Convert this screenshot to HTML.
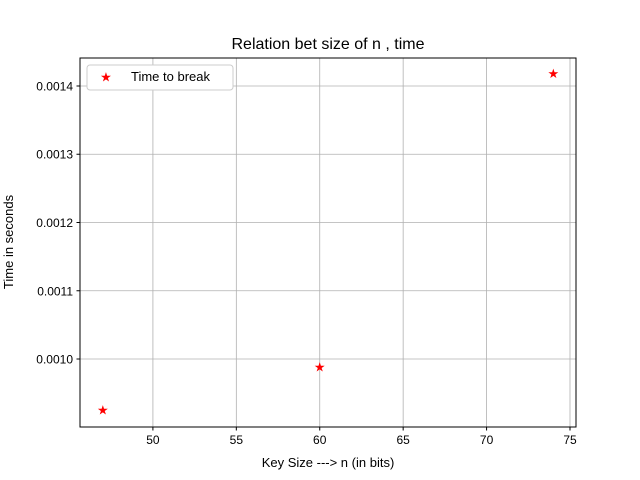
<!DOCTYPE html>
<html><head><meta charset="utf-8"><style>body{margin:0;background:#fff}svg{display:block;font-family:"Liberation Sans","DejaVu Sans",sans-serif}</style></head>
<body>
<svg id="chart" width="640" height="480" viewBox="0 0 640 480" xmlns="http://www.w3.org/2000/svg">
<rect width="640" height="480" fill="#fff"/>
<text x="328" y="49" font-size="16" text-anchor="middle">Relation bet size of n , time</text>
<g id="grid"></g>
<g id="ticks"></g>
<g id="marks"></g>
<rect x="80" y="58" width="496" height="369" fill="none" stroke="#000" stroke-width="1"/>
<text x="328" y="467" font-size="13" text-anchor="middle">Key Size ---&gt; n (in bits)</text>
<text transform="translate(13,242) rotate(-90)" font-size="13" text-anchor="middle">Time in seconds</text>
<g>
<rect x="87" y="65" width="146" height="25" rx="3" fill="#fff" stroke="#ccc"/>
<text x="106" y="81.5" font-size="13" fill="red" text-anchor="middle">★</text>
<text x="131" y="81" font-size="13">Time to break</text>
</g>
</svg>
<script>
const keySizes = [47, 60, 74];
const times = [0.000925, 0.000988, 0.001418];
const xTicks = [50, 55, 60, 65, 70, 75];
const yTicks = [0.0010, 0.0011, 0.0012, 0.0013, 0.0014];
const yTickLabels = ["0.0010", "0.0011", "0.0012", "0.0013", "0.0014"];
const X0=80,X1=576,Y0=427,Y1=58,xmin=45.63,xmax=75.36,ymin=0.0009004,ymax=0.001441;
const xs=v=>X0+(v-xmin)/(xmax-xmin)*(X1-X0);
const ys=v=>Y0-(v-ymin)/(ymax-ymin)*(Y0-Y1);
const NS="http://www.w3.org/2000/svg";
function mk(t,a,p){const e=document.createElementNS(NS,t);for(const k in a)e.setAttribute(k,a[k]);p.appendChild(e);return e;}
const grid=document.getElementById('grid'),ticks=document.getElementById('ticks'),marks=document.getElementById('marks');
xTicks.forEach(v=>{const x=xs(v);
 const g=mk('line',{x1:x,x2:x,y1:Y1,y2:Y0,stroke:'#b0b0b0','stroke-width':0.8},grid);
 
 
 mk('line',{x1:x,x2:x,y1:Y0,y2:Y0+3.5,stroke:'#000'},ticks);
 const t=mk('text',{x:x,y:Y0+17,'font-size':12,'text-anchor':'middle'},ticks);t.textContent=v;
 
 
});
yTicks.forEach((v,i)=>{const y=ys(v);
 const g=mk('line',{x1:X0,x2:X1,y1:y,y2:y,stroke:'#b0b0b0','stroke-width':0.8},grid);
 
 
 mk('line',{x1:X0-3.5,x2:X0,y1:y,y2:y,stroke:'#000'},ticks);
 const t=mk('text',{x:X0-7,y:y+4.5,'font-size':12,'text-anchor':'end'},ticks);t.textContent=yTickLabels[i];
 
 
});
keySizes.forEach((k,i)=>{
 const t=mk('text',{x:xs(k),y:ys(times[i])+4.5,'font-size':13,fill:'red','text-anchor':'middle'},marks);t.textContent='★';
 
 
});
</script>
</body></html>
